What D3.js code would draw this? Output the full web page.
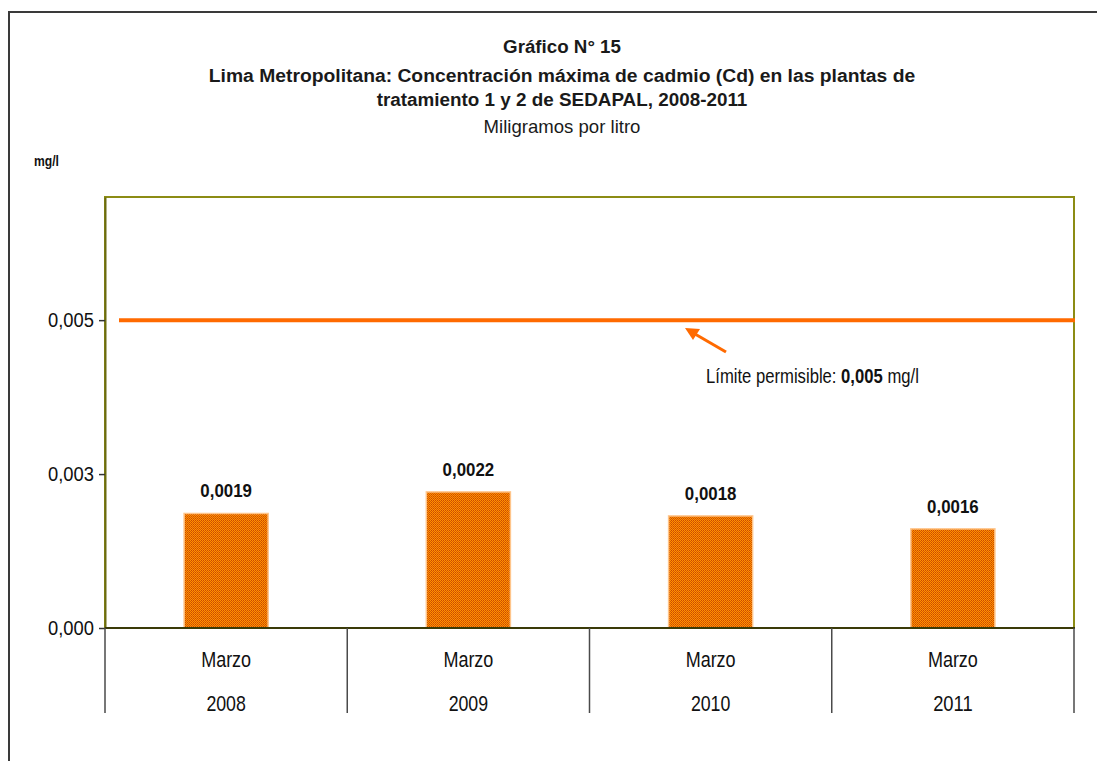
<!DOCTYPE html>
<html><head><meta charset="utf-8">
<script src="https://cdn.jsdelivr.net/npm/d3@7/dist/d3.min.js"></script>
<style>
html,body{margin:0;padding:0;background:#fff;}
svg{display:block;font-family:"Liberation Sans",Arial,sans-serif;}
</style></head>
<body>
<svg id="chart" width="1097" height="761"></svg>
<script>
// ---- data ----
const titleLines = ["Gráfico N° 15",
  "Lima Metropolitana: Concentración máxima de cadmio (Cd) en las plantas de",
  "tratamiento 1 y 2 de SEDAPAL, 2008-2011"];
const subtitle = "Miligramos por litro";
const unitLabel = "mg/l";
const months = ["Marzo", "Marzo", "Marzo", "Marzo"];
const years = ["2008", "2009", "2010", "2011"];
const values = [0.00186, 0.00221, 0.00182, 0.00161];
const valueLabels = ["0,0019", "0,0022", "0,0018", "0,0016"];
const limitValue = 0.005;
const limitText = ["Límite permisible: ", "0,005", " mg/l"];
const yTickValues = [0, 0.0025, 0.005];
const yTickLabels = ["0,000", "0,003", "0,005"];
const yMax = 0.007;

// ---- layout ----
const svg = d3.select("#chart");
const P = {left: 105, right: 1074, top: 197, bottom: 628};
const catBottom = 713;

const y = d3.scaleLinear().domain([0, yMax]).range([P.bottom, P.top]);
const cat = d3.scaleBand().domain(years).range([P.left, P.right]).padding(0);
const barX = d3.scaleBand().domain(years).range([P.left, P.right])
  .paddingInner(0.653).paddingOuter(0.3265);

// helper: text fitted to a target width by horizontal scaling
function fitText(parent, x, yy, target, anchor, build) {
  const g = parent.append("g");
  const t = g.append("text").attr("text-anchor", anchor);
  build(t);
  const w = t.node().getComputedTextLength();
  const s = target / w;
  g.attr("transform", `translate(${x},${yy}) scale(${s},1)`);
  return t;
}

// defs: pattern for bars
const defs = svg.append("defs");
const pat = defs.append("pattern").attr("id", "chk").attr("patternUnits", "userSpaceOnUse")
  .attr("width", 2).attr("height", 2);
pat.append("rect").attr("width", 2).attr("height", 2).attr("fill", "#ff9200");
pat.append("rect").attr("x", 1).attr("y", 0).attr("width", 1).attr("height", 1).attr("fill", "#c94a00");
pat.append("rect").attr("x", 0).attr("y", 1).attr("width", 1).attr("height", 1).attr("fill", "#d85800");

// outer frame
svg.append("path").attr("d", "M9,761 V12 H1097").attr("fill", "none")
  .attr("stroke", "#3a3a3a").attr("stroke-width", 2);

// titles
const titleCx = 562;
const titleW = [118, 707, 371];
const titleY = [53, 82, 106];
titleLines.forEach((s, i) => {
  fitText(svg, titleCx, titleY[i], titleW[i], "middle", t =>
    t.attr("font-size", 18.5).attr("font-weight", "bold").attr("fill", "#1a1a1a").text(s));
});
fitText(svg, titleCx, 133, 157, "middle", t =>
  t.attr("font-size", 18.5).attr("fill", "#1a1a1a").text(subtitle));

// unit label
fitText(svg, 34, 166, 25, "start", t =>
  t.attr("font-size", 15).attr("font-weight", "bold").attr("fill", "#111").text(unitLabel));

// plot border
svg.append("rect").attr("x", P.left).attr("y", P.top)
  .attr("width", P.right - P.left).attr("height", P.bottom - P.top)
  .attr("fill", "none").attr("stroke", "#8c8c14").attr("stroke-width", 2);

// bars
svg.append("g").selectAll("rect").data(values).join("rect")
  .attr("x", (d, i) => barX(years[i]))
  .attr("y", d => y(d))
  .attr("width", barX.bandwidth())
  .attr("height", d => y(0) - y(d))
  .attr("fill", "url(#chk)")
  .attr("stroke", "#ffc58a").attr("stroke-width", 1.5);

// value labels
values.forEach((d, i) => {
  fitText(svg, barX(years[i]) + barX.bandwidth() / 2, y(d) - 16, 51.6, "middle", t =>
    t.attr("font-size", 19).attr("font-weight", "bold").attr("fill", "#111").text(valueLabels[i]));
});

// limit line
svg.append("line").attr("x1", 119).attr("x2", P.right + 1)
  .attr("y1", y(limitValue)).attr("y2", y(limitValue))
  .attr("stroke", "#ff6a00").attr("stroke-width", 4);

// arrow
svg.append("line").attr("x1", 726).attr("y1", 352).attr("x2", 695).attr("y2", 334)
  .attr("stroke", "#ff6a00").attr("stroke-width", 3);
svg.append("path").attr("d", "M685,328 L700,329 L693,340 Z").attr("fill", "#ff6a00");

// limit text
fitText(svg, 706, 383, 213, "start", t => {
  t.attr("font-size", 19.5).attr("fill", "#111");
  t.append("tspan").text(limitText[0]);
  t.append("tspan").attr("font-weight", "bold").text(limitText[1]);
  t.append("tspan").text(limitText[2]);
});

// y axis
const yAxis = d3.axisLeft(y).tickValues(yTickValues).tickSizeInner(6).tickSizeOuter(0)
  .tickFormat((d, i) => yTickLabels[i]);
const ya = svg.append("g").attr("transform", `translate(${P.left},0)`).call(yAxis);
ya.select(".domain").attr("stroke", "#6b6b10").attr("stroke-width", 2);
ya.selectAll(".tick line").attr("stroke", "#333").attr("stroke-width", 1.5);
ya.selectAll(".tick text").remove();
yTickValues.forEach((v, i) => {
  fitText(svg, 94, y(v) + 7, 46, "end", t =>
    t.attr("font-size", 19.5).attr("fill", "#111").text(yTickLabels[i]));
});

// x axis baseline
svg.append("line").attr("x1", P.left).attr("x2", P.right + 1)
  .attr("y1", P.bottom).attr("y2", P.bottom)
  .attr("stroke", "#3a3a08").attr("stroke-width", 2);

// category separators
const seps = years.map(c => cat(c)).concat([P.right]);
svg.append("g").selectAll("line").data(seps).join("line")
  .attr("x1", d => d).attr("x2", d => d)
  .attr("y1", P.bottom).attr("y2", catBottom)
  .attr("stroke", "#4a4a4a").attr("stroke-width", 1.5);

// category labels
years.forEach((c, i) => {
  const cx = cat(c) + cat.bandwidth() / 2;
  fitText(svg, cx, 667, 50, "middle", t =>
    t.attr("font-size", 21.5).attr("fill", "#111").text(months[i]));
  fitText(svg, cx, 711, 39.5, "middle", t =>
    t.attr("font-size", 21.5).attr("fill", "#111").text(c));
});
</script>
</body></html>
